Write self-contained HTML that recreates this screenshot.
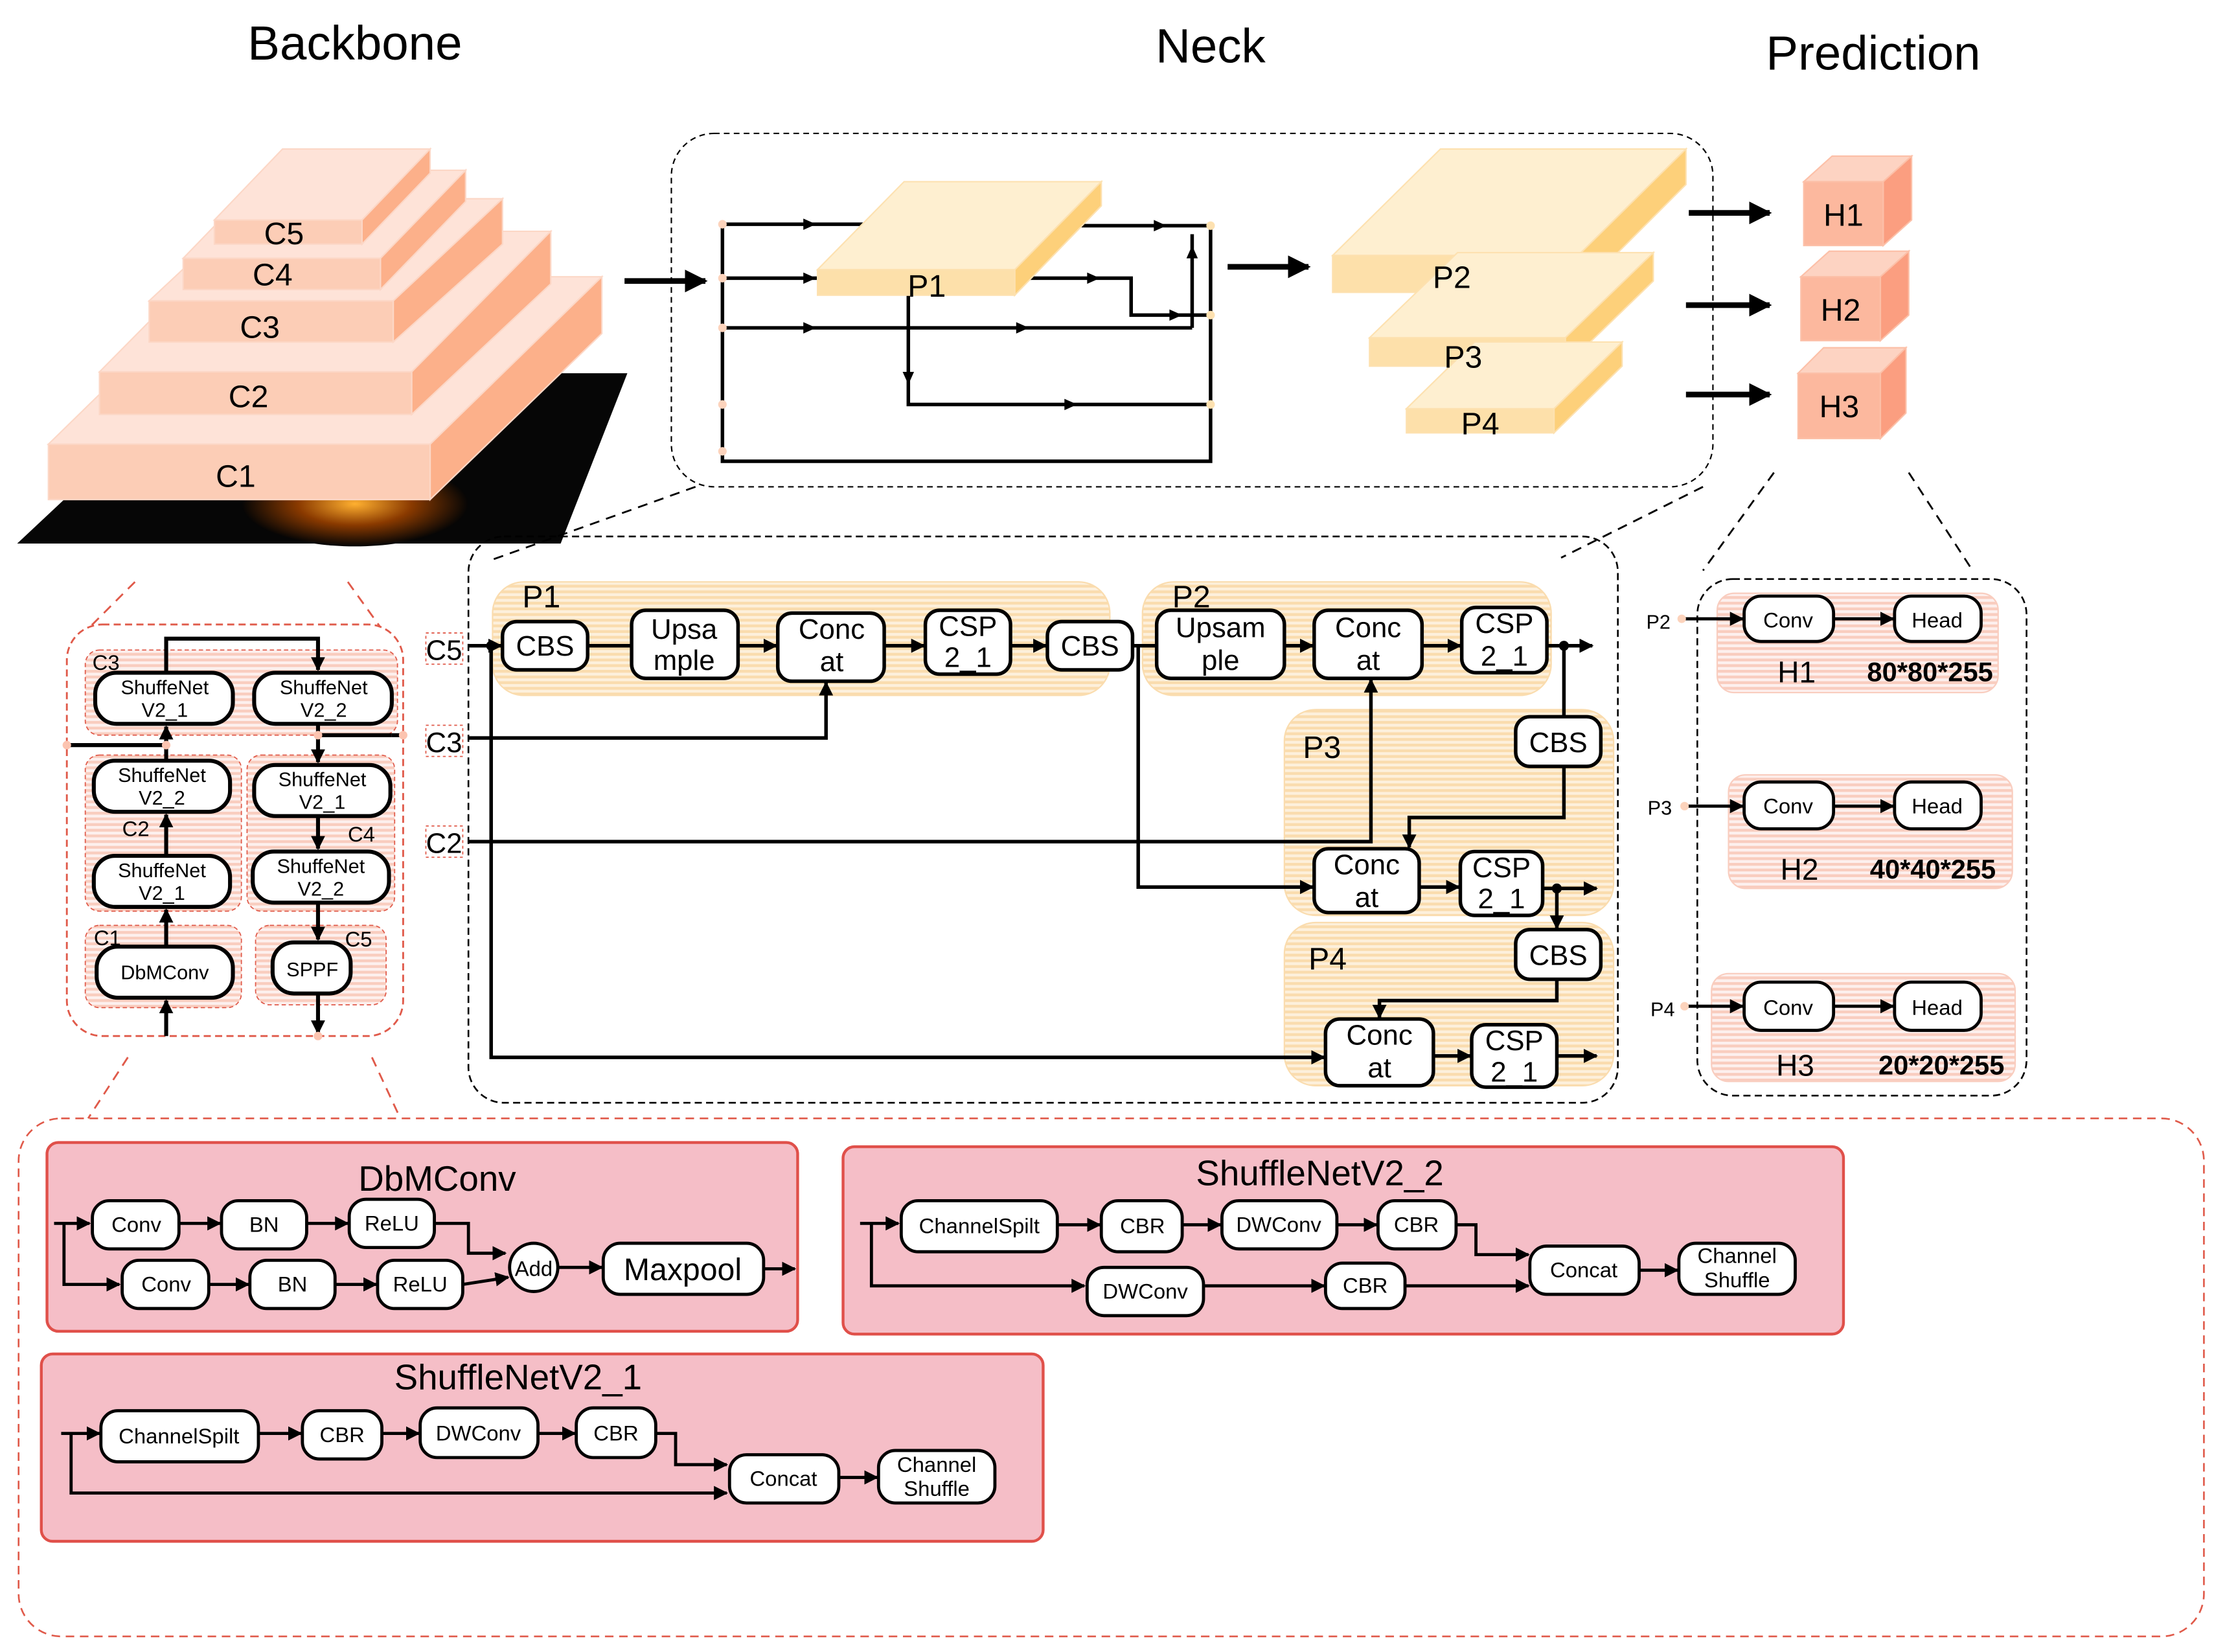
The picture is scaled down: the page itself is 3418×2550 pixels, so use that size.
<!DOCTYPE html>
<html><head><meta charset="utf-8"><style>
html,body{margin:0;padding:0;background:#fff;}
svg{display:block;}
text{font-family:"Liberation Sans","DejaVu Sans",sans-serif;fill:#000;}
</style></head><body>
<svg width="3418" height="2550" viewBox="0 0 1560 1164" xmlns="http://www.w3.org/2000/svg">
<defs>
<marker id="a" viewBox="0 0 10 10" refX="9" refY="5" markerWidth="10" markerHeight="10" markerUnits="userSpaceOnUse" orient="auto"><path d="M0,0L10,5L0,10z" fill="#000"/></marker>
<marker id="A" viewBox="0 0 10 10" refX="9" refY="5" markerWidth="16" markerHeight="16" markerUnits="userSpaceOnUse" orient="auto"><path d="M0,0L10,5L0,10z" fill="#000"/></marker>
<marker id="m" viewBox="0 0 10 10" refX="5" refY="5" markerWidth="9" markerHeight="9" markerUnits="userSpaceOnUse" orient="auto"><path d="M0,0L10,5L0,10z" fill="#000"/></marker>
<pattern id="ho" width="6" height="4" patternUnits="userSpaceOnUse"><rect width="6" height="4" fill="#fdf0dc"/><rect width="6" height="2" fill="#fadcae"/></pattern>
<pattern id="hp" width="6" height="4" patternUnits="userSpaceOnUse"><rect width="6" height="4" fill="#fdf0ee"/><rect width="6" height="2" fill="#f9cdbf"/></pattern>
<radialGradient id="g"><stop offset="0" stop-color="#ffb030"/><stop offset="0.5" stop-color="#8a3a00"/><stop offset="1" stop-color="#050505"/></radialGradient>
</defs>

<!-- titles -->
<text x="250" y="42" font-size="34" text-anchor="middle">Backbone</text>
<text x="853" y="44" font-size="34" text-anchor="middle">Neck</text>
<text x="1320" y="49" font-size="34" text-anchor="middle">Prediction</text>

<!-- pyramid -->
<polygon points="12,383 395,383 442,263 140,263" fill="#060606"/>
<ellipse cx="250" cy="355" rx="80" ry="30" fill="url(#g)"/>
<g stroke="#fcd7c6" stroke-width="1">
<polygon points="34,313 303,313 424,195 155,195" fill="#fee3d8"/><polygon points="303,313 424,195 424,235 303,352" fill="#fcb08a"/><rect x="34" y="313" width="269" height="39" fill="#fccdb6"/>
<polygon points="70,262 290,262 388,163 168,163" fill="#fee3d8"/><polygon points="290,262 388,163 388,200 290,292" fill="#fcb08a"/><rect x="70" y="262" width="220" height="30" fill="#fccdb6"/>
<polygon points="105,212 277,212 354,140 182,140" fill="#fee3d8"/><polygon points="277,212 354,140 354,172 277,241" fill="#fcb08a"/><rect x="105" y="212" width="172" height="29" fill="#fccdb6"/>
<polygon points="129,182 268,182 328,120 189,120" fill="#fee3d8"/><polygon points="268,182 328,120 328,142 268,204" fill="#fcb08a"/><rect x="129" y="182" width="139" height="22" fill="#fccdb6"/>
<polygon points="151,155 255,155 303,105 199,105" fill="#fee3d8"/><polygon points="255,155 303,105 303,122 255,172" fill="#fcb08a"/><rect x="151" y="155" width="104" height="17" fill="#fccdb6"/>
</g>
<g font-size="22" text-anchor="middle"><text x="200" y="172">C5</text><text x="192" y="201">C4</text><text x="183" y="238">C3</text><text x="175" y="287">C2</text><text x="166" y="343">C1</text></g>
<line x1="440" y1="198" x2="497" y2="198" stroke="#000" stroke-width="4" marker-end="url(#A)"/>

<!-- neck top -->
<rect x="473" y="94" width="734" height="249" rx="30" fill="none" stroke="#000" stroke-width="1" stroke-dasharray="4,3"/>
<g stroke="#000" stroke-width="2.5" fill="none">
<polyline points="509,158 509,325 853,325 853,158"/>
<line x1="509" y1="158" x2="610" y2="158"/><line x1="762" y1="159" x2="853" y2="159"/>
<line x1="509" y1="196" x2="578" y2="196"/>
<line x1="509" y1="231" x2="840" y2="231"/><polyline points="840,231 840,165"/>
<polyline points="715,196 797,196 797,222 853,222"/>
<polyline points="640,208 640,285 853,285"/>
</g>
<g fill="#000"><path d="M566,154l9,4l-9,4z"/><path d="M566,192l9,4l-9,4z"/><path d="M566,227l9,4l-9,4z"/><path d="M716,227l9,4l-9,4z"/><path d="M813,155l9,4l-9,4z"/><path d="M766,192l9,4l-9,4z"/><path d="M824,218l9,4l-9,4z"/><path d="M750,281l9,4l-9,4z"/><path d="M636,262l4,9l4,-9z"/><path d="M836,182l4,-9l4,9z"/></g>
<g fill="#fcd3bc"><circle cx="509" cy="158" r="3"/><circle cx="509" cy="196" r="3"/><circle cx="509" cy="231" r="3"/><circle cx="509" cy="285" r="3"/><circle cx="509" cy="318" r="3"/></g>
<g fill="#fde1b0"><circle cx="853" cy="159" r="3"/><circle cx="853" cy="222" r="3"/><circle cx="853" cy="285" r="3"/></g>
<g stroke="#fde1b0" stroke-width="1">
<polygon points="576,190 715,190 776,128 637,128" fill="#feefd0"/><polygon points="715,190 776,128 776,145 715,208" fill="#fdd07a"/><rect x="576" y="190" width="139" height="18" fill="#fde0aa"/>
<polygon points="939,180 1112,180 1188,105 1015,105" fill="#feefd0"/><polygon points="1112,180 1188,105 1188,130 1112,206" fill="#fdd07a"/><rect x="939" y="180" width="173" height="26" fill="#fde0aa"/>
<polygon points="965,238 1103,238 1165,178 1027,178" fill="#feefd0"/><polygon points="1103,238 1165,178 1165,198 1103,258" fill="#fdd07a"/><rect x="965" y="238" width="138" height="20" fill="#fde0aa"/>
<polygon points="991,288 1095,288 1143,241 1039,241" fill="#feefd0"/><polygon points="1095,288 1143,241 1143,258 1095,305" fill="#fdd07a"/><rect x="991" y="288" width="104" height="17" fill="#fde0aa"/>
</g>
<g font-size="22" text-anchor="middle"><text x="653" y="209">P1</text><text x="1023" y="203">P2</text><text x="1031" y="259">P3</text><text x="1043" y="306">P4</text></g>
<line x1="865" y1="188" x2="922" y2="188" stroke="#000" stroke-width="4" marker-end="url(#A)"/>

<!-- prediction cubes -->
<g stroke="#fcc0a8" stroke-width="1">
<polygon points="1271,128 1327,128 1347,110 1291,110" fill="#fdd3c2"/><polygon points="1327,128 1347,110 1347,155 1327,173" fill="#fb9e80"/><rect x="1271" y="128" width="56" height="45" fill="#fcb89e"/>
<polygon points="1269,195 1325,195 1345,177 1289,177" fill="#fdd3c2"/><polygon points="1325,195 1345,177 1345,222 1325,240" fill="#fb9e80"/><rect x="1269" y="195" width="56" height="45" fill="#fcb89e"/>
<polygon points="1267,263 1325,263 1343,245 1285,245" fill="#fdd3c2"/><polygon points="1325,263 1343,245 1343,291 1325,309" fill="#fb9e80"/><rect x="1267" y="263" width="58" height="46" fill="#fcb89e"/>
</g>
<g font-size="22" text-anchor="middle"><text x="1299" y="159">H1</text><text x="1297" y="226">H2</text><text x="1296" y="294">H3</text></g>
<g stroke="#000" stroke-width="4"><line x1="1190" y1="150" x2="1247" y2="150" marker-end="url(#A)"/><line x1="1188" y1="215" x2="1247" y2="215" marker-end="url(#A)"/><line x1="1188" y1="278" x2="1247" y2="278" marker-end="url(#A)"/></g>

<!-- connecting dashed -->
<g stroke="#000" stroke-width="1.3" stroke-dasharray="7,5" fill="none">
<line x1="490" y1="343" x2="345" y2="395"/><line x1="1200" y1="343" x2="1100" y2="393"/>
<line x1="1250" y1="333" x2="1200" y2="402"/><line x1="1345" y1="333" x2="1390" y2="402"/>
</g>
<g stroke="#e05a4a" stroke-width="1.3" stroke-dasharray="7,5" fill="none">
<line x1="95" y1="410" x2="63" y2="442"/><line x1="245" y1="410" x2="268" y2="442"/>
<line x1="90" y1="745" x2="62" y2="788"/><line x1="262" y1="745" x2="282" y2="788"/>
</g>

<!-- backbone detail -->
<rect x="47" y="440" width="237" height="290" rx="25" fill="#fff" stroke="#e05a4a" stroke-width="1.3" stroke-dasharray="5,3"/>
<g stroke="#e05a4a" stroke-width="0.8" stroke-dasharray="3,2">
<rect x="60" y="458" width="220" height="60" rx="10" fill="url(#hp)"/>
<rect x="60" y="532" width="110" height="110" rx="10" fill="url(#hp)"/>
<rect x="174" y="532" width="104" height="110" rx="10" fill="url(#hp)"/>
<rect x="60" y="652" width="110" height="58" rx="10" fill="url(#hp)"/>
<rect x="180" y="652" width="92" height="56" rx="10" fill="url(#hp)"/>
</g>
<g stroke="#000" stroke-width="2.8" fill="none">
<line x1="117" y1="730" x2="117" y2="705" marker-end="url(#a)"/>
<line x1="117" y1="667" x2="117" y2="641" marker-end="url(#a)"/>
<line x1="117" y1="603" x2="117" y2="574" marker-end="url(#a)"/>
<line x1="117" y1="536" x2="117" y2="512" marker-end="url(#a)"/>
<line x1="47" y1="525" x2="117" y2="525"/>
<polyline points="117,474 117,450 224,450 224,472" marker-end="url(#a)"/>
<line x1="224" y1="510" x2="224" y2="537" marker-end="url(#a)"/>
<line x1="276" y1="518" x2="284" y2="518"/><line x1="224" y1="518" x2="276" y2="518"/>
<line x1="224" y1="575" x2="224" y2="598" marker-end="url(#a)"/>
<line x1="224" y1="636" x2="224" y2="662" marker-end="url(#a)"/>
<line x1="224" y1="700" x2="224" y2="728" marker-end="url(#a)"/>
</g>
<g fill="#fcc4b0"><circle cx="47" cy="525" r="3"/><circle cx="117" cy="525" r="3"/><circle cx="224" cy="518" r="3"/><circle cx="284" cy="518" r="3"/><circle cx="224" cy="730" r="3"/></g>
<g fill="#fff" stroke="#000" stroke-width="2.8">
<rect x="67" y="474" width="97" height="36" rx="15"/><rect x="179" y="474" width="97" height="36" rx="15"/>
<rect x="66" y="536" width="96" height="36" rx="15"/><rect x="66" y="603" width="96" height="36" rx="15"/>
<rect x="179" y="539" width="96" height="36" rx="15"/><rect x="178" y="600" width="96" height="36" rx="15"/>
<rect x="68" y="667" width="96" height="36" rx="15"/><rect x="192" y="664" width="55" height="36" rx="15"/>
</g>
<g font-size="14" text-anchor="middle">
<text x="116" y="489">ShuffeNet</text><text x="116" y="505">V2_1</text>
<text x="228" y="489">ShuffeNet</text><text x="228" y="505">V2_2</text>
<text x="114" y="551">ShuffeNet</text><text x="114" y="567">V2_2</text>
<text x="114" y="618">ShuffeNet</text><text x="114" y="634">V2_1</text>
<text x="227" y="554">ShuffeNet</text><text x="227" y="570">V2_1</text>
<text x="226" y="615">ShuffeNet</text><text x="226" y="631">V2_2</text>
<text x="116" y="690">DbMConv</text><text x="220" y="688">SPPF</text>
</g>
<g font-size="15"><text x="65" y="472">C3</text><text x="86" y="589">C2</text><text x="245" y="593">C4</text><text x="66" y="666">C1</text><text x="243" y="667">C5</text></g>

<!-- neck detail -->
<rect x="330" y="378" width="810" height="399" rx="25" fill="none" stroke="#000" stroke-width="1.2" stroke-dasharray="5,3"/>
<g stroke="#fadcae" stroke-width="1">
<rect x="347" y="410" width="435" height="80" rx="22" fill="url(#ho)"/>
<rect x="805" y="410" width="288" height="80" rx="22" fill="url(#ho)"/>
<rect x="905" y="500" width="232" height="145" rx="22" fill="url(#ho)"/>
<rect x="905" y="650" width="232" height="115" rx="22" fill="url(#ho)"/>
</g>
<g font-size="22"><text x="368" y="428">P1</text><text x="826" y="428">P2</text><text x="918" y="534">P3</text><text x="922" y="683">P4</text></g>
<g stroke="#e05a4a" stroke-width="0.8" stroke-dasharray="2,2" fill="none"><rect x="300" y="446" width="26" height="22"/><rect x="300" y="511" width="26" height="22"/><rect x="300" y="582" width="26" height="22"/></g>
<g font-size="20"><text x="300" y="465">C5</text><text x="300" y="530">C3</text><text x="300" y="601">C2</text></g>
<g stroke="#000" stroke-width="2.5" fill="none">
<line x1="330" y1="455" x2="353" y2="455" marker-end="url(#a)"/>
<polyline points="346,455 346,745 933,745" marker-end="url(#a)"/>
<polyline points="330,520 582,520 582,481" marker-end="url(#a)"/>
<polyline points="330,593 966,593 966,479" marker-end="url(#a)"/>
<line x1="414" y1="455" x2="445" y2="455"/>
<line x1="520" y1="455" x2="547" y2="455" marker-end="url(#a)"/>
<line x1="623" y1="455" x2="651" y2="455" marker-end="url(#a)"/>
<line x1="712" y1="455" x2="737" y2="455" marker-end="url(#a)"/>
<line x1="798" y1="455" x2="814" y2="455"/>
<polyline points="802,455 802,625 925,625" marker-end="url(#a)"/>
<line x1="905" y1="455" x2="925" y2="455" marker-end="url(#a)"/>
<line x1="1002" y1="455" x2="1029" y2="455" marker-end="url(#a)"/>
<line x1="1090" y1="455" x2="1122" y2="455" marker-end="url(#a)"/>
<line x1="1102" y1="455" x2="1102" y2="505"/>
<polyline points="1102,540 1102,576 993,576 993,597" marker-end="url(#a)"/>
<line x1="1000" y1="625" x2="1028" y2="625" marker-end="url(#a)"/>
<line x1="1087" y1="626" x2="1125" y2="626" marker-end="url(#a)"/>
<line x1="1097" y1="626" x2="1097" y2="654" marker-end="url(#a)"/>
<polyline points="1097,690 1097,705 972,705 972,717" marker-end="url(#a)"/>
<line x1="1010" y1="744" x2="1036" y2="744" marker-end="url(#a)"/>
<line x1="1097" y1="744" x2="1125" y2="744" marker-end="url(#a)"/>
</g>
<g fill="#000"><circle cx="1102" cy="455" r="3.5"/><circle cx="1097" cy="626" r="3.5"/><circle cx="346" cy="455" r="3.5"/></g>
<g fill="#fff" stroke="#000" stroke-width="2.5">
<rect x="354" y="438" width="60" height="34" rx="10"/><rect x="445" y="430" width="75" height="48" rx="10"/>
<rect x="548" y="432" width="75" height="48" rx="10"/><rect x="652" y="430" width="60" height="45" rx="10"/>
<rect x="738" y="438" width="60" height="34" rx="10"/><rect x="815" y="430" width="90" height="48" rx="10"/>
<rect x="926" y="430" width="76" height="48" rx="10"/><rect x="1030" y="428" width="60" height="46" rx="10"/>
<rect x="1068" y="505" width="60" height="35" rx="10"/><rect x="926" y="598" width="74" height="45" rx="10"/>
<rect x="1029" y="600" width="58" height="45" rx="10"/><rect x="1068" y="655" width="60" height="35" rx="10"/>
<rect x="934" y="718" width="76" height="47" rx="10"/><rect x="1037" y="722" width="60" height="44" rx="10"/>
</g>
<g font-size="20" text-anchor="middle">
<text x="384" y="462">CBS</text>
<text x="482" y="450">Upsa</text><text x="482" y="472">mple</text>
<text x="586" y="450">Conc</text><text x="586" y="473">at</text>
<text x="682" y="448">CSP</text><text x="682" y="470">2_1</text>
<text x="768" y="462">CBS</text>
<text x="860" y="449">Upsam</text><text x="860" y="472">ple</text>
<text x="964" y="449">Conc</text><text x="964" y="472">at</text>
<text x="1060" y="446">CSP</text><text x="1060" y="469">2_1</text>
<text x="1098" y="530">CBS</text>
<text x="963" y="616">Conc</text><text x="963" y="639">at</text>
<text x="1058" y="618">CSP</text><text x="1058" y="640">2_1</text>
<text x="1098" y="680">CBS</text>
<text x="972" y="736">Conc</text><text x="972" y="759">at</text>
<text x="1067" y="740">CSP</text><text x="1067" y="762">2_1</text>
</g>

<!-- prediction detail -->
<rect x="1196" y="408" width="232" height="364" rx="25" fill="none" stroke="#000" stroke-width="1.2" stroke-dasharray="5,3"/>
<g stroke="#f9cdbf" stroke-width="1">
<rect x="1210" y="418" width="198" height="70" rx="12" fill="url(#hp)"/>
<rect x="1218" y="546" width="200" height="80" rx="12" fill="url(#hp)"/>
<rect x="1206" y="686" width="214" height="76" rx="12" fill="url(#hp)"/>
</g>
<g stroke="#000" stroke-width="2.2">
<line x1="1185" y1="436" x2="1228" y2="436" marker-end="url(#a)"/><line x1="1292" y1="436" x2="1334" y2="436" marker-end="url(#a)"/>
<line x1="1187" y1="568" x2="1228" y2="568" marker-end="url(#a)"/><line x1="1292" y1="568" x2="1334" y2="568" marker-end="url(#a)"/>
<line x1="1187" y1="709" x2="1228" y2="709" marker-end="url(#a)"/><line x1="1292" y1="709" x2="1334" y2="709" marker-end="url(#a)"/>
</g>
<g fill="#fcd3bc"><circle cx="1185" cy="436" r="3"/><circle cx="1187" cy="568" r="3"/><circle cx="1187" cy="709" r="3"/></g>
<g fill="#fff" stroke="#000" stroke-width="2.2">
<rect x="1229" y="420" width="63" height="32" rx="12"/><rect x="1335" y="420" width="61" height="32" rx="12"/>
<rect x="1229" y="551" width="63" height="33" rx="12"/><rect x="1335" y="551" width="61" height="33" rx="12"/>
<rect x="1229" y="692" width="63" height="34" rx="12"/><rect x="1335" y="692" width="61" height="34" rx="12"/>
</g>
<g font-size="15" text-anchor="middle">
<text x="1260" y="442">Conv</text><text x="1365" y="442">Head</text>
<text x="1260" y="573">Conv</text><text x="1365" y="573">Head</text>
<text x="1260" y="715">Conv</text><text x="1365" y="715">Head</text>
</g>
<g font-size="14"><text x="1160" y="443">P2</text><text x="1161" y="574">P3</text><text x="1163" y="716">P4</text></g>
<g font-size="21" text-anchor="middle"><text x="1266" y="481">H1</text><text x="1268" y="620">H2</text><text x="1265" y="758">H3</text></g>
<g font-size="19" font-weight="bold" text-anchor="middle"><text x="1360" y="480">80*80*255</text><text x="1362" y="619">40*40*255</text><text x="1368" y="757">20*20*255</text></g>

<!-- bottom modules -->
<rect x="13" y="788" width="1540" height="365" rx="30" fill="none" stroke="#e05a4a" stroke-width="1.2" stroke-dasharray="6,4"/>
<g fill="#f5bec7" stroke="#e0504a" stroke-width="2">
<rect x="33" y="805" width="529" height="133" rx="8"/>
<rect x="594" y="808" width="705" height="132" rx="8"/>
<rect x="29" y="954" width="706" height="132" rx="8"/>
</g>
<g font-size="25" text-anchor="middle"><text x="308" y="839">DbMConv</text><text x="930" y="835">ShuffleNetV2_2</text><text x="365" y="979">ShuffleNetV2_1</text></g>
<g stroke="#000" stroke-width="2.2" fill="none">
<line x1="38" y1="862" x2="63" y2="862" marker-end="url(#a)"/>
<polyline points="45,862 45,905 84,905" marker-end="url(#a)"/>
<line x1="126" y1="862" x2="155" y2="862" marker-end="url(#a)"/>
<line x1="216" y1="862" x2="245" y2="862" marker-end="url(#a)"/>
<polyline points="306,862 330,862 330,883 356,883" marker-end="url(#a)"/>
<line x1="147" y1="905" x2="175" y2="905" marker-end="url(#a)"/>
<line x1="236" y1="905" x2="265" y2="905" marker-end="url(#a)"/>
<line x1="326" y1="905" x2="358" y2="900" marker-end="url(#a)"/>
<line x1="393" y1="893" x2="424" y2="893" marker-end="url(#a)"/>
<line x1="538" y1="894" x2="560" y2="894" marker-end="url(#a)"/>

<line x1="606" y1="862" x2="633" y2="862" marker-end="url(#a)"/>
<polyline points="614,862 614,906 764,906" marker-end="url(#a)"/>
<line x1="745" y1="863" x2="775" y2="863" marker-end="url(#a)"/>
<line x1="833" y1="863" x2="860" y2="863" marker-end="url(#a)"/>
<line x1="942" y1="863" x2="970" y2="863" marker-end="url(#a)"/>
<polyline points="1026,863 1040,863 1040,884 1077,884" marker-end="url(#a)"/>
<line x1="848" y1="906" x2="933" y2="906" marker-end="url(#a)"/>
<line x1="990" y1="906" x2="1077" y2="906" marker-end="url(#a)"/>
<line x1="1155" y1="895" x2="1182" y2="895" marker-end="url(#a)"/>

<line x1="43" y1="1010" x2="70" y2="1010" marker-end="url(#a)"/>
<polyline points="50,1010 50,1052 512,1052" marker-end="url(#a)"/>
<line x1="182" y1="1010" x2="212" y2="1010" marker-end="url(#a)"/>
<line x1="269" y1="1010" x2="295" y2="1010" marker-end="url(#a)"/>
<line x1="379" y1="1010" x2="405" y2="1010" marker-end="url(#a)"/>
<polyline points="462,1010 476,1010 476,1032 512,1032" marker-end="url(#a)"/>
<line x1="591" y1="1041" x2="618" y2="1041" marker-end="url(#a)"/>
</g>
<g fill="#fff" stroke="#000" stroke-width="2.2">
<rect x="65" y="846" width="61" height="34" rx="12"/><rect x="156" y="846" width="60" height="34" rx="12"/><rect x="246" y="845" width="60" height="34" rx="12"/>
<rect x="86" y="888" width="61" height="34" rx="12"/><rect x="176" y="888" width="60" height="34" rx="12"/><rect x="266" y="888" width="60" height="34" rx="12"/>
<circle cx="376" cy="893" r="17"/><rect x="425" y="876" width="113" height="36" rx="12"/>
<rect x="635" y="846" width="110" height="36" rx="12"/><rect x="776" y="846" width="57" height="36" rx="12"/><rect x="861" y="846" width="81" height="34" rx="12"/><rect x="971" y="846" width="55" height="34" rx="12"/>
<rect x="766" y="893" width="82" height="34" rx="12"/><rect x="934" y="890" width="56" height="32" rx="12"/>
<rect x="1078" y="878" width="77" height="34" rx="12"/><rect x="1183" y="876" width="82" height="36" rx="12"/>
<rect x="71" y="994" width="111" height="36" rx="12"/><rect x="213" y="994" width="56" height="34" rx="12"/><rect x="296" y="992" width="83" height="35" rx="12"/><rect x="406" y="992" width="56" height="35" rx="12"/>
<rect x="514" y="1025" width="77" height="34" rx="12"/><rect x="619" y="1022" width="82" height="37" rx="12"/>
</g>
<g font-size="15" text-anchor="middle">
<text x="96" y="868">Conv</text><text x="186" y="868">BN</text><text x="276" y="867">ReLU</text>
<text x="117" y="910">Conv</text><text x="206" y="910">BN</text><text x="296" y="910">ReLU</text>
<text x="376" y="899">Add</text><text x="481" y="902" font-size="22">Maxpool</text>
<text x="690" y="869">ChannelSpilt</text><text x="805" y="869">CBR</text><text x="901" y="868">DWConv</text><text x="998" y="868">CBR</text>
<text x="807" y="915">DWConv</text><text x="962" y="911">CBR</text><text x="1116" y="900">Concat</text>
<text x="1224" y="890">Channel</text><text x="1224" y="907">Shuffle</text>
<text x="126" y="1017">ChannelSpilt</text><text x="241" y="1016">CBR</text><text x="337" y="1015">DWConv</text><text x="434" y="1015">CBR</text>
<text x="552" y="1047">Concat</text><text x="660" y="1037">Channel</text><text x="660" y="1054">Shuffle</text>
</g>
</svg>
</body></html>
